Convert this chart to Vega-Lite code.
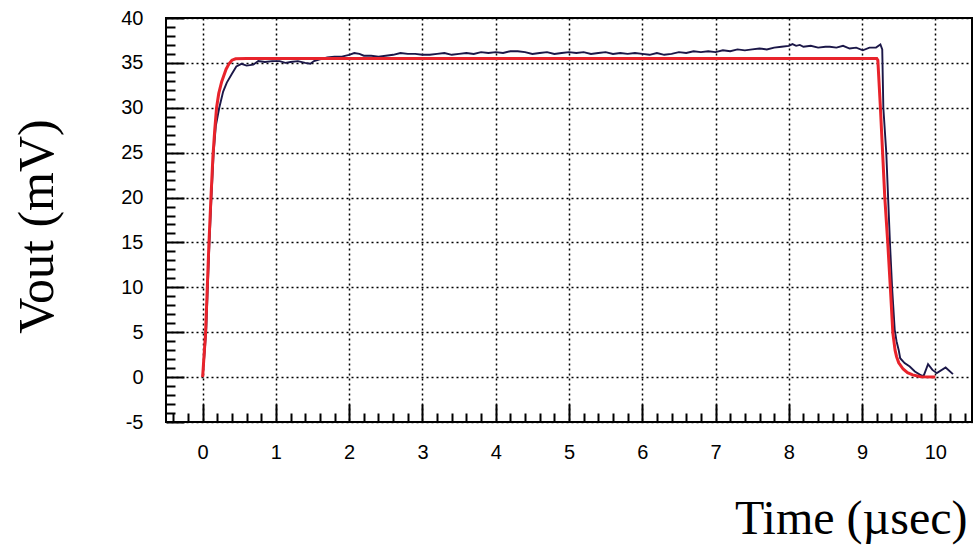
{
  "$schema": "https://vega.github.io/schema/vega-lite/v6.json",
  "width": 806,
  "height": 404,
  "autosize": {"type": "none"},
  "padding": {"left": 166, "top": 18, "right": 2, "bottom": 134},
  "background": "white",
  "config": {
    "view": {"stroke": "black", "strokeWidth": 2},
    "axis": {"domain": false}
  },
  "datasets": {
    "measured": [
      {"t": 0, "v": 0}, {"t": 0.03, "v": 3}, {"t": 0.05, "v": 5.5}, {"t": 0.07, "v": 10}, {"t": 0.093, "v": 15},
      {"t": 0.12, "v": 20}, {"t": 0.15, "v": 25}, {"t": 0.18, "v": 28}, {"t": 0.227, "v": 30}, {"t": 0.28, "v": 31.8},
      {"t": 0.33, "v": 32.8}, {"t": 0.4, "v": 33.8}, {"t": 0.46, "v": 34.6}, {"t": 0.53, "v": 34.9}, {"t": 0.6, "v": 34.7},
      {"t": 0.69, "v": 34.8}, {"t": 0.76, "v": 35.2}, {"t": 0.85, "v": 35.1}, {"t": 0.95, "v": 35.2}, {"t": 1.05, "v": 35.2},
      {"t": 1.13, "v": 35.0}, {"t": 1.2, "v": 35.1}, {"t": 1.3, "v": 35.2}, {"t": 1.4, "v": 35.0}, {"t": 1.47, "v": 34.9},
      {"t": 1.52, "v": 35.2}, {"t": 1.6, "v": 35.4}, {"t": 1.7, "v": 35.6}, {"t": 1.8, "v": 35.7}, {"t": 1.9, "v": 35.7},
      {"t": 2.0, "v": 35.9}, {"t": 2.07, "v": 36.1}, {"t": 2.14, "v": 36.0}, {"t": 2.2, "v": 35.8}, {"t": 2.3, "v": 35.8},
      {"t": 2.4, "v": 35.7}, {"t": 2.5, "v": 35.8}, {"t": 2.6, "v": 35.9}, {"t": 2.7, "v": 36.1}, {"t": 2.8, "v": 36.0},
      {"t": 2.9, "v": 36.0}, {"t": 3.0, "v": 35.9}, {"t": 3.1, "v": 35.9}, {"t": 3.2, "v": 36.0}, {"t": 3.3, "v": 36.1},
      {"t": 3.4, "v": 35.9}, {"t": 3.5, "v": 36.0}, {"t": 3.6, "v": 36.1}, {"t": 3.7, "v": 36.0}, {"t": 3.8, "v": 36.2},
      {"t": 3.9, "v": 36.1}, {"t": 4.0, "v": 36.2}, {"t": 4.1, "v": 36.1}, {"t": 4.2, "v": 36.3}, {"t": 4.3, "v": 36.3},
      {"t": 4.4, "v": 36.2}, {"t": 4.5, "v": 36.0}, {"t": 4.6, "v": 36.1}, {"t": 4.7, "v": 36.2}, {"t": 4.8, "v": 36.0},
      {"t": 4.9, "v": 36.1}, {"t": 5.0, "v": 36.2}, {"t": 5.1, "v": 36.1}, {"t": 5.2, "v": 36.2}, {"t": 5.3, "v": 36.0},
      {"t": 5.4, "v": 36.1}, {"t": 5.5, "v": 36.2}, {"t": 5.6, "v": 36.0}, {"t": 5.7, "v": 36.1}, {"t": 5.8, "v": 36.0},
      {"t": 5.9, "v": 36.1}, {"t": 6.0, "v": 36.0}, {"t": 6.1, "v": 35.9}, {"t": 6.2, "v": 36.1}, {"t": 6.3, "v": 35.9},
      {"t": 6.4, "v": 36.0}, {"t": 6.5, "v": 36.2}, {"t": 6.6, "v": 36.1}, {"t": 6.7, "v": 36.3}, {"t": 6.8, "v": 36.2},
      {"t": 6.9, "v": 36.3}, {"t": 7.0, "v": 36.2}, {"t": 7.1, "v": 36.4}, {"t": 7.2, "v": 36.3}, {"t": 7.3, "v": 36.5},
      {"t": 7.4, "v": 36.4}, {"t": 7.5, "v": 36.5}, {"t": 7.6, "v": 36.6}, {"t": 7.7, "v": 36.5}, {"t": 7.8, "v": 36.7},
      {"t": 7.9, "v": 36.8}, {"t": 8.0, "v": 36.9}, {"t": 8.05, "v": 37.1}, {"t": 8.1, "v": 36.9}, {"t": 8.15, "v": 37.0},
      {"t": 8.2, "v": 36.8}, {"t": 8.3, "v": 36.9}, {"t": 8.4, "v": 36.7}, {"t": 8.5, "v": 36.8}, {"t": 8.56, "v": 36.8},
      {"t": 8.65, "v": 36.7}, {"t": 8.74, "v": 36.9}, {"t": 8.83, "v": 36.6}, {"t": 8.92, "v": 36.7}, {"t": 9.01, "v": 36.4},
      {"t": 9.1, "v": 36.7}, {"t": 9.19, "v": 36.7}, {"t": 9.25, "v": 37.05}, {"t": 9.275, "v": 36.5}, {"t": 9.29, "v": 30},
      {"t": 9.33, "v": 25}, {"t": 9.355, "v": 20}, {"t": 9.38, "v": 15}, {"t": 9.41, "v": 9.9}, {"t": 9.445, "v": 5.3},
      {"t": 9.47, "v": 4.0}, {"t": 9.5, "v": 3.0}, {"t": 9.52, "v": 2.1}, {"t": 9.58, "v": 1.56}, {"t": 9.65, "v": 1.18},
      {"t": 9.72, "v": 0.63}, {"t": 9.81, "v": 0.18}, {"t": 9.84, "v": 0.14}, {"t": 9.9, "v": 1.45}, {"t": 9.96, "v": 0.8},
      {"t": 10.02, "v": 0.44}, {"t": 10.14, "v": 1.07}, {"t": 10.24, "v": 0.33}
    ],
    "fit": [
      {"t": 0, "v": 0}, {"t": 0.02, "v": 2.5}, {"t": 0.04, "v": 4.9}, {"t": 0.063, "v": 9.9}, {"t": 0.086, "v": 14.9},
      {"t": 0.113, "v": 19.9}, {"t": 0.14, "v": 24.5}, {"t": 0.165, "v": 27.5}, {"t": 0.19, "v": 30}, {"t": 0.22, "v": 31.6},
      {"t": 0.26, "v": 32.9}, {"t": 0.32, "v": 34.3}, {"t": 0.36, "v": 34.9}, {"t": 0.4, "v": 35.3}, {"t": 0.45, "v": 35.45},
      {"t": 0.6, "v": 35.5}, {"t": 9.2, "v": 35.5}, {"t": 9.215, "v": 35.3}, {"t": 9.25, "v": 30}, {"t": 9.28, "v": 25},
      {"t": 9.31, "v": 20}, {"t": 9.35, "v": 15}, {"t": 9.386, "v": 9.9}, {"t": 9.42, "v": 4.9}, {"t": 9.45, "v": 3.0},
      {"t": 9.47, "v": 2.3}, {"t": 9.5, "v": 1.6}, {"t": 9.56, "v": 0.9}, {"t": 9.62, "v": 0.5}, {"t": 9.69, "v": 0.25},
      {"t": 9.8, "v": 0.05}, {"t": 10.0, "v": 0}
    ]
  },
  "layer": [
    {
      "data": {"name": "measured"},
      "mark": {"type": "line", "color": "#1b1748", "strokeWidth": 1.9},
      "encoding": {
        "x": {
          "field": "t", "type": "quantitative",
          "scale": {"domain": [-0.5, 10.5], "nice": false, "zero": false},
          "axis": {
            "orient": "bottom",
            "values": [0, 1, 2, 3, 4, 5, 6, 7, 8, 9, 10],
            "grid": true, "gridColor": "black", "gridDash": [2, 3], "gridWidth": 1.5, "gridOpacity": 1,
            "ticks": true, "tickSize": -18, "tickWidth": 2, "tickColor": "black",
            "labelPadding": 38, "labelFont": "Liberation Sans", "labelFontSize": 20, "labelColor": "black",
            "title": "Time (µsec)", "titleFont": "Liberation Serif", "titleFontSize": 48, "titleFontWeight": "normal",
            "titleColor": "black", "titleAnchor": "end", "titleAlign": "right", "titleBaseline": "alphabetic",
            "titleX": 801, "titleY": 111
          }
        },
        "y": {
          "field": "v", "type": "quantitative",
          "scale": {"domain": [-5, 40], "nice": false, "zero": false},
          "axis": {
            "orient": "left",
            "values": [-5, 0, 5, 10, 15, 20, 25, 30, 35, 40],
            "labelExpr": "'' + datum.value",
            "grid": true, "gridColor": "black", "gridDash": [2, 3], "gridWidth": 1.5, "gridOpacity": 1,
            "ticks": true, "tickSize": -18, "tickWidth": 2, "tickColor": "black",
            "labelPadding": 41, "labelFont": "Liberation Sans", "labelFontSize": 20, "labelColor": "black",
            "title": "Vout (mV)", "titleFont": "Liberation Serif", "titleFontSize": 50, "titleFontWeight": "normal",
            "titleColor": "black", "titleAlign": "center", "titleBaseline": "alphabetic", "titleAngle": 270,
            "titleX": -114, "titleY": 208
          }
        }
      }
    },
    {
      "data": {"name": "fit"},
      "mark": {"type": "line", "color": "#e8232b", "strokeWidth": 3},
      "encoding": {
        "x": {
          "field": "t", "type": "quantitative",
          "scale": {"domain": [-0.5, 10.5], "nice": false, "zero": false},
          "axis": {
            "orient": "bottom",
            "values": [-0.4, -0.2, 0.2, 0.4, 0.6, 0.8, 1.2, 1.4, 1.6, 1.8, 2.2, 2.4, 2.6, 2.8, 3.2, 3.4, 3.6, 3.8, 4.2, 4.4, 4.6, 4.8, 5.2, 5.4, 5.6, 5.8, 6.2, 6.4, 6.6, 6.8, 7.2, 7.4, 7.6, 7.8, 8.2, 8.4, 8.6, 8.8, 9.2, 9.4, 9.6, 9.8, 10.2, 10.4],
            "grid": false, "labels": false, "title": null,
            "ticks": true, "tickSize": -9, "tickWidth": 2, "tickColor": "black"
          }
        },
        "y": {
          "field": "v", "type": "quantitative",
          "scale": {"domain": [-5, 40], "nice": false, "zero": false},
          "axis": {
            "orient": "left",
            "values": [-4, -3, -2, -1, 1, 2, 3, 4, 6, 7, 8, 9, 11, 12, 13, 14, 16, 17, 18, 19, 21, 22, 23, 24, 26, 27, 28, 29, 31, 32, 33, 34, 36, 37, 38, 39],
            "grid": false, "labels": false, "title": null,
            "ticks": true, "tickSize": -9, "tickWidth": 2, "tickColor": "black"
          }
        }
      }
    }
  ],
  "resolve": {"axis": {"x": "independent", "y": "independent"}}
}
